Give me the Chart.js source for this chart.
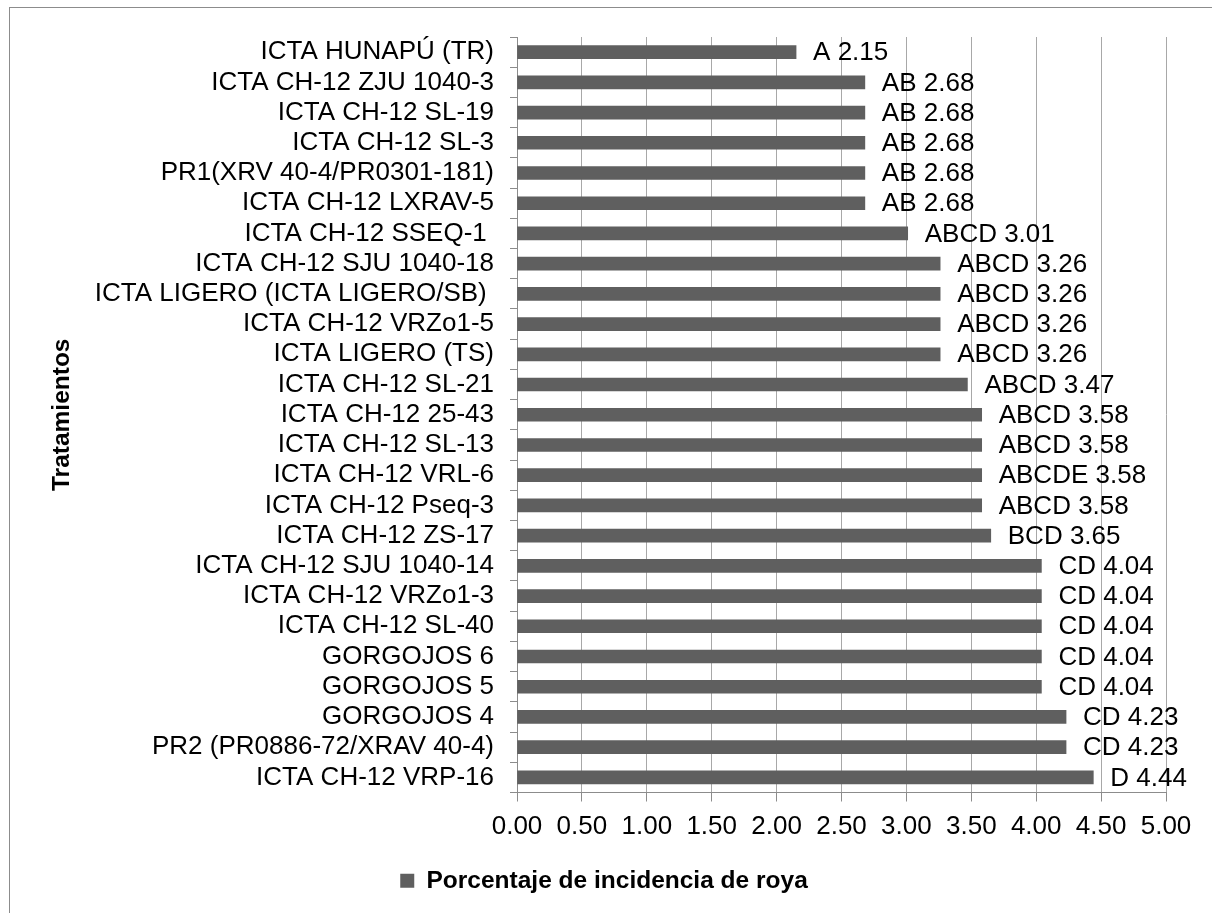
<!DOCTYPE html>
<html>
<head>
<meta charset="utf-8">
<script src="https://cdn.jsdelivr.net/npm/chart.js@4"></script>
<style>
    body { margin: 0; background: #ffffff; }
    #wrap { position: relative; width: 1212px; height: 913px; overflow: hidden; }
    #frame { position: absolute; left: 9px; top: 7px; width: 1300px; height: 1000px; border: 1px solid #8c8c8c; }
    #grafic { position: absolute; left: 0; top: 0; }
</style>
</head>
<body>
<div id="wrap">
    <div id="frame"></div>
    <canvas id="grafic" width="1212" height="913"></canvas>
</div>
<script>
let tratamientos = [
    "ICTA HUNAPÚ (TR)",
    "ICTA CH-12 ZJU 1040-3",
    "ICTA CH-12 SL-19",
    "ICTA CH-12 SL-3",
    "PR1(XRV 40-4/PR0301-181)",
    "ICTA CH-12 LXRAV-5",
    "ICTA CH-12 SSEQ-1 ",
    "ICTA CH-12 SJU 1040-18",
    "ICTA LIGERO (ICTA LIGERO/SB) ",
    "ICTA CH-12 VRZo1-5",
    "ICTA LIGERO (TS)",
    "ICTA CH-12 SL-21",
    "ICTA CH-12 25-43",
    "ICTA CH-12 SL-13",
    "ICTA CH-12 VRL-6",
    "ICTA CH-12 Pseq-3",
    "ICTA CH-12 ZS-17",
    "ICTA CH-12 SJU 1040-14",
    "ICTA CH-12 VRZo1-3",
    "ICTA CH-12 SL-40",
    "GORGOJOS 6",
    "GORGOJOS 5",
    "GORGOJOS 4",
    "PR2 (PR0886-72/XRAV 40-4)",
    "ICTA CH-12 VRP-16"
];

let incidencia = [
    2.15, 2.68, 2.68, 2.68, 2.68, 2.68, 3.01, 3.26, 3.26, 3.26,
    3.26, 3.47, 3.58, 3.58, 3.58, 3.58, 3.65, 4.04, 4.04, 4.04,
    4.04, 4.04, 4.23, 4.23, 4.44
];

let grupos = [
    "A", "AB", "AB", "AB", "AB", "AB", "ABCD", "ABCD", "ABCD", "ABCD",
    "ABCD", "ABCD", "ABCD", "ABCD", "ABCDE", "ABCD", "BCD", "CD", "CD", "CD",
    "CD", "CD", "CD", "CD", "D"
];

let numeSerie = "Porcentaje de incidencia de roya";
let titluAxa = "Tratamientos";

let fontNormal = { family: "'Liberation Sans', Arial, sans-serif", size: 26 };
let fontBold = { family: "'Liberation Sans', Arial, sans-serif", size: 24.5, weight: "bold" };

// etichetele "A 2.15" din dreapta barelor
let eticheteBare = {
    id: "eticheteBare",
    afterDatasetsDraw: function(chart) {
        let ctx = chart.ctx;
        let meta = chart.getDatasetMeta(0);
        ctx.save();
        ctx.font = "26px 'Liberation Sans', Arial, sans-serif";
        ctx.fillStyle = "#000000";
        ctx.textAlign = "left";
        ctx.textBaseline = "middle";
        for (let i = 0; i < meta.data.length; i++) {
            let bar = meta.data[i];
            ctx.fillText(grupos[i] + " " + incidencia[i].toFixed(2), bar.x + 17, bar.y + 1);
        }
        ctx.restore();
    }
};

new Chart(document.getElementById("grafic"), {
    type: "bar",
    data: {
        labels: tratamientos,
        datasets: [{
            label: numeSerie,
            data: incidencia,
            backgroundColor: "#5f5f5f",
            borderWidth: 0,
            barThickness: 13
        }]
    },
    options: {
        indexAxis: "y",
        responsive: false,
        animation: false,
        layout: {
            padding: { top: 37, right: 46, bottom: 10, left: 42 }
        },
        scales: {
            x: {
                min: 0,
                max: 5,
                ticks: {
                    stepSize: 0.5,
                    autoSkip: false,
                    maxRotation: 0,
                    padding: 10,
                    color: "#000000",
                    font: fontNormal,
                    callback: function(value) {
                        return Number(value).toFixed(2);
                    }
                },
                grid: {
                    color: "#a8a8a8",
                    tickLength: 9,
                    tickColor: "#8c8c8c"
                },
                border: { color: "#8c8c8c" },
                afterFit: function(scale) {
                    scale.height = 66;
                }
            },
            y: {
                ticks: {
                    autoSkip: false,
                    padding: 16,
                    color: "#000000",
                    font: fontNormal
                },
                grid: {
                    drawOnChartArea: false,
                    drawTicks: true,
                    tickLength: 7,
                    color: "#8c8c8c"
                },
                border: { color: "#8c8c8c" },
                title: {
                    display: true,
                    text: titluAxa,
                    color: "#000000",
                    font: fontBold,
                    padding: { top: 6, bottom: 0 }
                },
                afterFit: function(scale) {
                    scale.width = 517 - 42;
                }
            }
        },
        plugins: {
            legend: {
                position: "bottom",
                labels: {
                    boxWidth: 14,
                    boxHeight: 14,
                    padding: 10,
                    color: "#000000",
                    font: fontBold
                }
            },
            tooltip: { enabled: false }
        }
    },
    plugins: [eticheteBare]
});
</script>
</body>
</html>
